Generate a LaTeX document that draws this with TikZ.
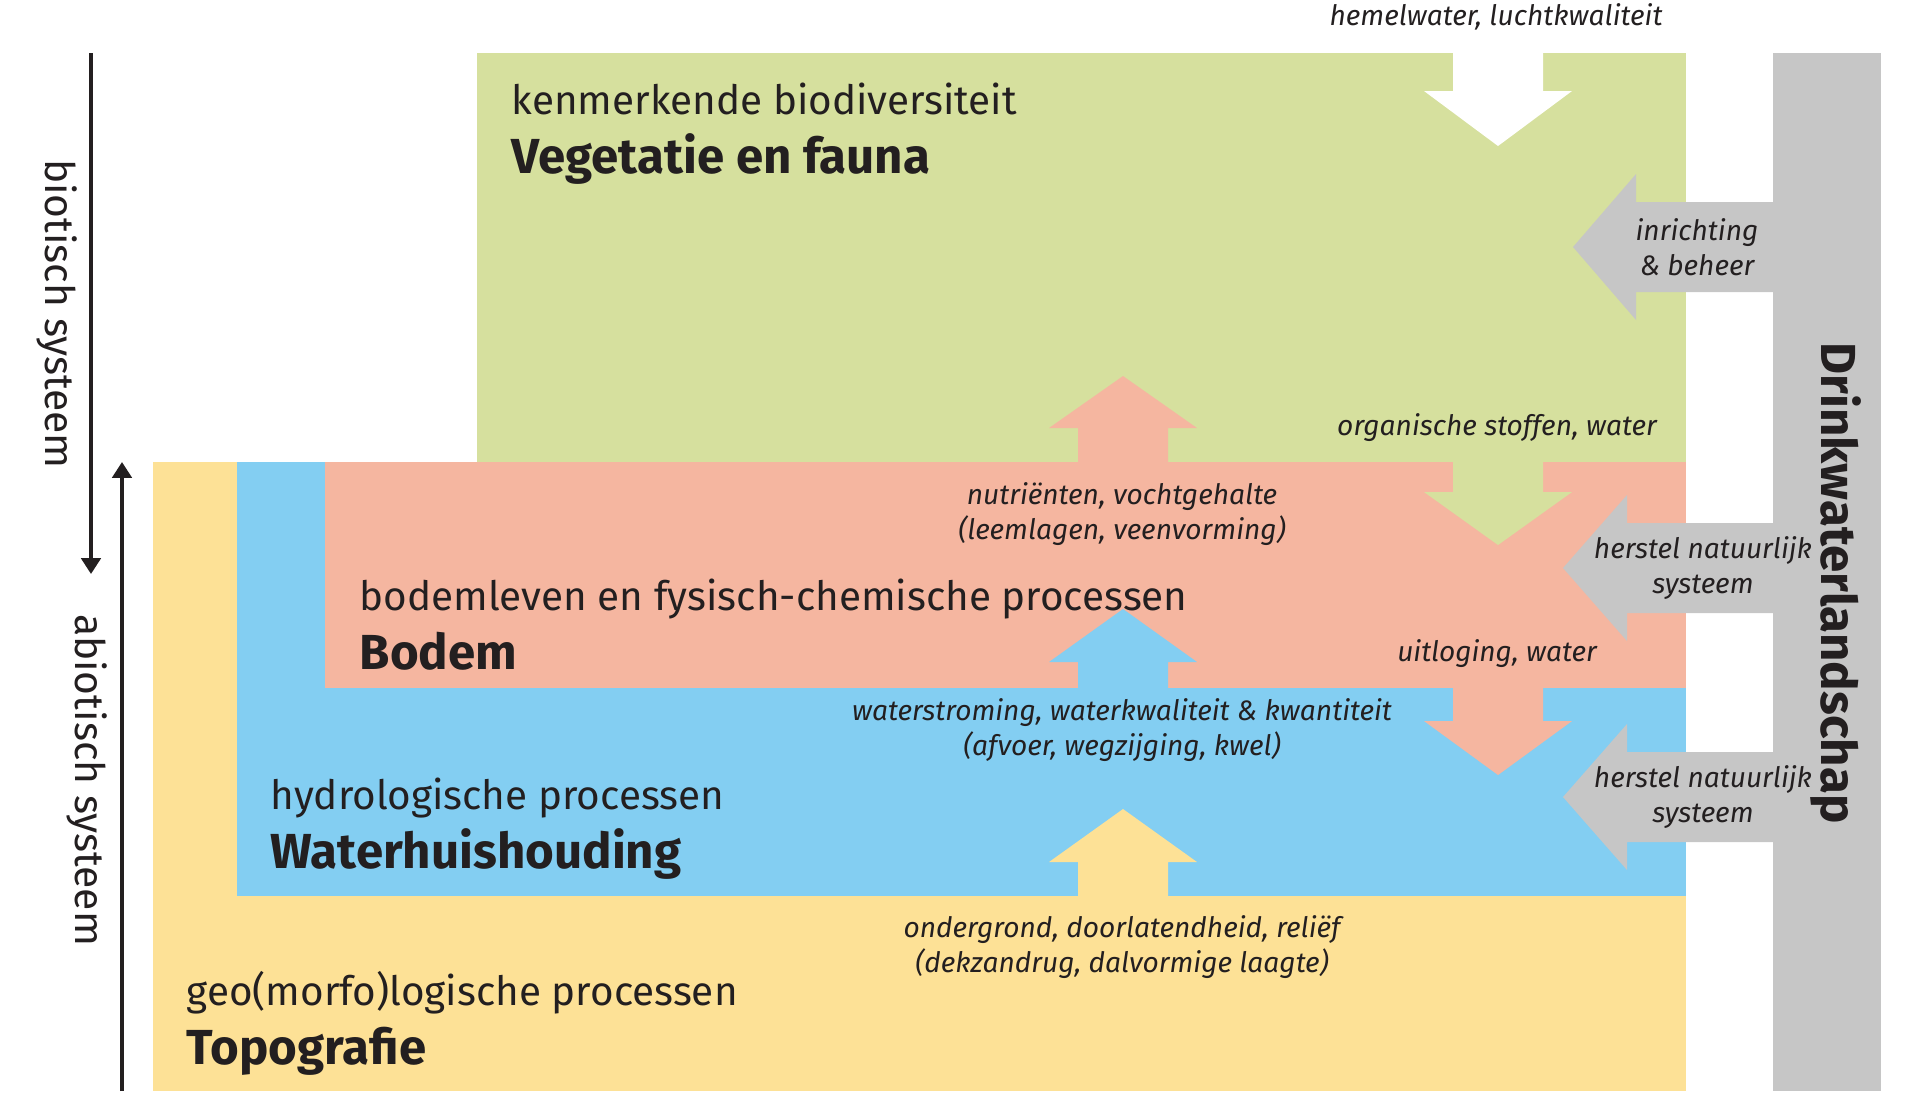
\documentclass[tikz,border=0pt]{standalone}
\usepackage{fontspec}
\setmainfont{Fira Sans}
\usepackage{tikz}
\usetikzlibrary{arrows.meta,positioning}
\definecolor{vegcol}{RGB}{214,224,158}
\definecolor{bodemcol}{RGB}{245,182,160}
\definecolor{watercol}{RGB}{131,206,242}
\definecolor{topocol}{RGB}{253,225,150}
\definecolor{drinkcol}{RGB}{198,198,198}
\definecolor{inkcol}{RGB}{35,31,32}
% block arrow up/down: x, start y, head y, tip y, colour
\newcommand{\vblock}[5]{\fill[#5] (#1-45,#2) -- (#1-45,#3) -- (#1-74,#3) -- (#1,#4) -- (#1+74,#3) -- (#1+45,#3) -- (#1+45,#2) -- cycle;}
% block arrow from the bar to the left: y, head x, tip x
\newcommand{\hblock}[3]{\fill[drinkcol] (1780,#1-45) -- (#2,#1-45) -- (#2,#1-73) -- (#3,#1) -- (#2,#1+73) -- (#2,#1+45) -- (1780,#1+45) -- cycle;}

\begin{document}
\begin{tikzpicture}[x=0.01cm,y=-0.01cm,
  layersub/.style={anchor=base west,inner sep=0pt,text=inkcol,font=\fontsize{11.5}{14}\selectfont},
  layertitle/.style={anchor=base west,inner sep=0pt,text=inkcol,font=\fontsize{14}{17}\bfseries\selectfont},
  flowlabel/.style={inner sep=0pt,align=center,text=inkcol,font=\fontsize{8}{9.8}\itshape\selectfont},
  syslabel/.style={inner sep=0pt,rotate=-90,text=inkcol,font=\fontsize{11.6}{14}\selectfont},
  sysarrow/.style={draw=inkcol,line width=1pt,-{Triangle[width=5.5pt,length=4.5pt]}}]
\useasboundingbox (0,0) rectangle (1907,1108);
% layers
\fill[topocol] (153,462) rectangle (1686,1091);
\fill[watercol] (237,462) rectangle (1686,896);
\fill[bodemcol] (325,462) rectangle (1686,688);
\fill[vegcol] (477,53) rectangle (1686,462);
% flows between the layers
\vblock{1123}{470}{428}{376}{bodemcol}
\vblock{1123}{695}{662}{609}{watercol}
\vblock{1123}{905}{862}{809}{topocol}
\vblock{1498}{40}{91}{146}{white}
\vblock{1498}{455}{492}{545}{vegcol}
\vblock{1498}{680}{721}{775}{bodemcol}
% drinkwater bar
\hblock{247}{1636}{1573}
\hblock{568}{1627}{1563}
\hblock{797}{1627}{1563}
\fill[drinkcol] (1773,53) rectangle (1881,1091);

\node[layersub] (vegsub) at (511,114) {kenmerkende biodiversiteit};
\node[layertitle] (vegtitle) at (511,173) {Vegetatie en fauna};
\node[layersub] (bodemsub) at (359,610) {bodemleven en fysisch-chemische processen};
\node[layertitle] (bodemtitle) at (359,669) {Bodem};
\node[layersub] (watersub) at (270,809) {hydrologische processen};
\node[layertitle] (watertitle) at (270,868) {Waterhuishouding};
\node[layersub] (toposub) at (186,1005) {geo(morfo)logische processen};
\node[layertitle] (topotitle) at (186,1064) {Topografie};

\node[flowlabel] (hemel) at (1496,17) {hemelwater, luchtkwaliteit};
\node[flowlabel] (organisch) at (1497,428) {organische stoffen, water};
\node[flowlabel] (uitloging) at (1497,654) {uitloging, water};
\node[flowlabel] (nutrient) at (1122,514) {nutriënten, vochtgehalte\\(leemlagen, veenvorming)};
\node[flowlabel] (stroming) at (1122,730) {waterstroming, waterkwaliteit \& kwantiteit\\(afvoer, wegzijging, kwel)};
\node[flowlabel] (ondergrond) at (1122,947) {ondergrond, doorlatendheid, reliëf\\(dekzandrug, dalvormige laagte)};
\node[flowlabel] (inrichting) at (1697,247) {inrichting\\\& beheer};
\node[flowlabel] (herstelA) at (1703,568) {herstel natuurlijk\\systeem};
\node[flowlabel] (herstelB) at (1703,797) {herstel natuurlijk\\systeem};
\node[rotate=-90,inner sep=0pt,text=inkcol,font=\fontsize{14}{17}\bfseries\selectfont] (drink) at (1836,583) {Drinkwaterlandschap};

\node[syslabel] (biotisch) at (57,314) {biotisch systeem};
\node[syslabel] (abiotisch) at (87,780) {abiotisch systeem};
\coordinate (bioS) at (91,53);
\coordinate (bioE) at (91,574);
\coordinate (abioS) at (122,1091);
\coordinate (abioE) at (122,462);
\draw[sysarrow] (bioS) -- (bioE);
\draw[sysarrow] (abioS) -- (abioE);
\end{tikzpicture}
\end{document}
